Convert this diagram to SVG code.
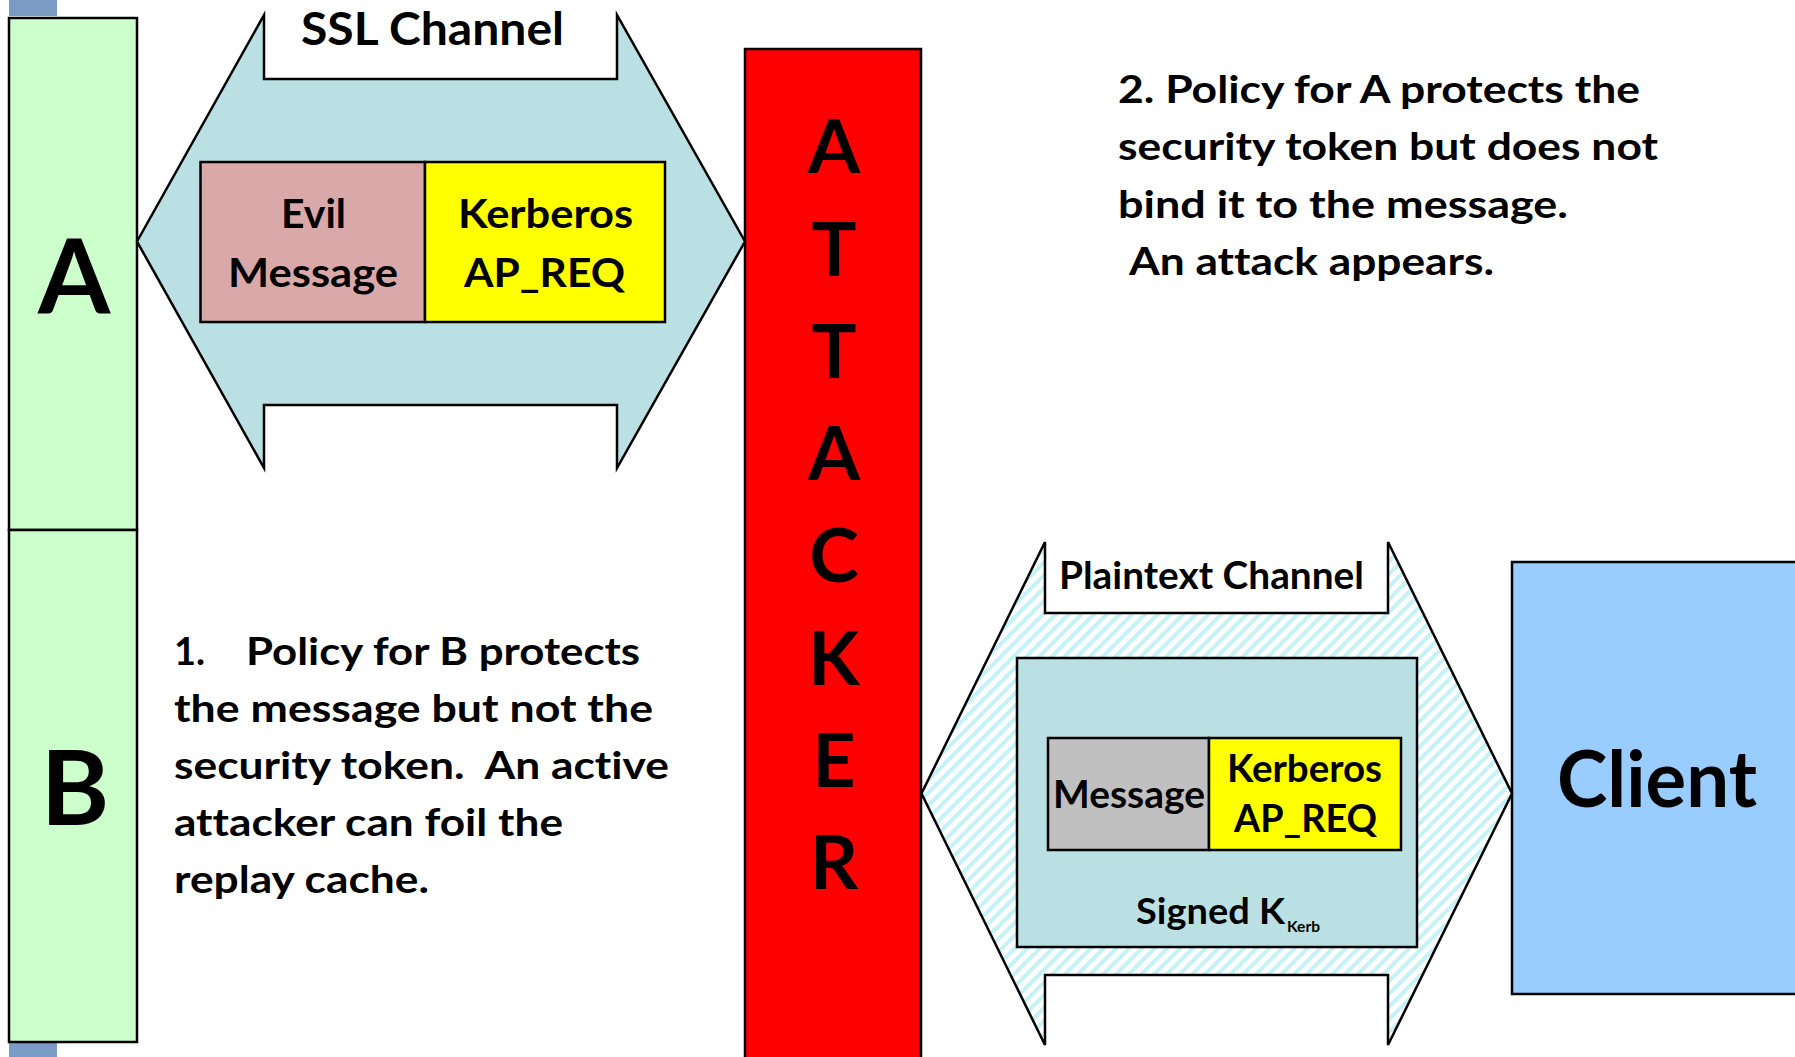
<svg xmlns="http://www.w3.org/2000/svg" width="1795" height="1057" viewBox="0 0 1795 1057">
  <defs>
    <pattern id="hatch" width="9" height="9" patternUnits="userSpaceOnUse" patternTransform="rotate(45)">
      <rect width="9" height="9" fill="#ffffff"/>
      <line x1="2" y1="0" x2="2" y2="9" stroke="#c4f2f6" stroke-width="4"/>
    </pattern>
  </defs>
  <style>
    .box { stroke: #000; stroke-width: 2.5; }
    .t { font-family: Lato, "Open Sans", "Liberation Sans", sans-serif; font-weight: bold; fill: #000; font-variant-ligatures: none; }
    .big { font-size: 104px; text-anchor: middle; }
    .att { font-size: 75px; text-anchor: middle; }
    .lbl { font-size: 41px; }
    .sm { font-size: 38px; }
    .body { font-size: 38px; }
  </style>

  <!-- background accents -->
  <rect x="9" y="0" width="48" height="16" fill="#7a9cc4"/>
  <rect x="9" y="1042" width="48" height="15" fill="#7a9cc4"/>

  <g id="node-A">
    <rect class="box" x="9" y="18" width="128" height="512" fill="#ccffcc"/>
    <text class="t big" x="74" y="313">A</text>
  </g>
  <g id="node-B">
    <rect class="box" x="9" y="530" width="128" height="512" fill="#ccffcc"/>
    <text class="t big" x="75" y="825">B</text>
  </g>

  <g id="node-attacker">
    <rect class="box" x="745" y="49" width="176" height="1010" fill="#ff0000"/>
    <text class="t att" x="834" y="173">A</text>
    <text class="t att" x="834" y="276">T</text>
    <text class="t att" x="834" y="378">T</text>
    <text class="t att" x="834" y="480">A</text>
    <text class="t att" x="834" y="582">C</text>
    <text class="t att" x="834" y="685">K</text>
    <text class="t att" x="834" y="787">E</text>
    <text class="t att" x="834" y="889">R</text>
  </g>

  <g id="node-client">
    <rect class="box" x="1512" y="562" width="300" height="432" fill="#99ccff"/>
    <text class="t" x="1557" y="807" font-size="78" textLength="200" lengthAdjust="spacingAndGlyphs">Client</text>
  </g>

  <g id="connectors">
    <g id="ssl-channel">
      <polygon class="box" fill="#bae0e3" points="137,241.5 264,15 264,79 617,79 617,15 745,241.5 617,468 617,405 264,405 264,468"/>
      <text class="t" x="301" y="45" font-size="46" textLength="263" lengthAdjust="spacingAndGlyphs">SSL Channel</text>
      <g id="node-evil-message">
        <rect class="box" x="200.5" y="162" width="224.5" height="160" fill="#d9a9a9"/>
        <text class="t lbl" x="281" y="228" textLength="65" lengthAdjust="spacingAndGlyphs">Evil</text>
        <text class="t lbl" x="228" y="287" textLength="170" lengthAdjust="spacingAndGlyphs">Message</text>
      </g>
      <g id="node-kerberos-1">
        <rect class="box" x="425" y="162" width="240" height="160" fill="#ffff00"/>
        <text class="t lbl" x="458" y="228" textLength="175" lengthAdjust="spacingAndGlyphs">Kerberos</text>
        <text class="t lbl" x="464" y="287" textLength="161" lengthAdjust="spacingAndGlyphs">AP_REQ</text>
      </g>
    </g>

    <g id="plaintext-channel">
      <polygon class="box" fill="url(#hatch)" points="921.5,793.5 1045,542 1045,613 1388,613 1388,542 1512,793.5 1388,1045 1388,975 1045,975 1045,1045"/>
      <text class="t" x="1059" y="589" font-size="38" textLength="305" lengthAdjust="spacingAndGlyphs">Plaintext Channel</text>
      <g id="node-signed">
        <rect class="box" x="1017" y="658" width="400" height="289" fill="#bae0e3"/>
        <text class="t" x="1136" y="924" font-size="36"><tspan textLength="149" lengthAdjust="spacingAndGlyphs">Signed K</tspan><tspan x="1287" y="932" font-size="16" textLength="33" lengthAdjust="spacingAndGlyphs">Kerb</tspan></text>
      </g>
      <g id="node-message">
        <rect class="box" x="1048" y="738" width="161" height="112" fill="#c0c0c0"/>
        <text class="t sm" x="1053" y="808" textLength="152" lengthAdjust="spacingAndGlyphs">Message</text>
      </g>
      <g id="node-kerberos-2">
        <rect class="box" x="1209" y="738" width="192" height="112" fill="#ffff00"/>
        <text class="t sm" x="1227" y="782" textLength="155" lengthAdjust="spacingAndGlyphs">Kerberos</text>
        <text class="t sm" x="1234" y="832" textLength="143" lengthAdjust="spacingAndGlyphs">AP_REQ</text>
      </g>
    </g>
  </g>

  <g id="note-1">
    <text class="t body" x="174" y="665">1.</text>
    <text class="t body" x="246" y="665" textLength="394" lengthAdjust="spacingAndGlyphs">Policy for B protects</text>
    <text class="t body" x="174" y="722" textLength="479" lengthAdjust="spacingAndGlyphs">the message but not the</text>
    <text class="t body" x="174" y="779" textLength="495" lengthAdjust="spacingAndGlyphs" xml:space="preserve">security token.  An active</text>
    <text class="t body" x="174" y="836" textLength="389" lengthAdjust="spacingAndGlyphs">attacker can foil the</text>
    <text class="t body" x="174" y="893" textLength="255" lengthAdjust="spacingAndGlyphs">replay cache.</text>
  </g>

  <g id="note-2">
    <text class="t body" x="1118" y="103" textLength="522" lengthAdjust="spacingAndGlyphs">2. Policy for A protects the</text>
    <text class="t body" x="1118" y="160" textLength="540" lengthAdjust="spacingAndGlyphs">security token but does not</text>
    <text class="t body" x="1118" y="218" textLength="450" lengthAdjust="spacingAndGlyphs">bind it to the message.</text>
    <text class="t body" x="1129" y="275" textLength="365" lengthAdjust="spacingAndGlyphs">An attack appears.</text>
  </g>
</svg>
